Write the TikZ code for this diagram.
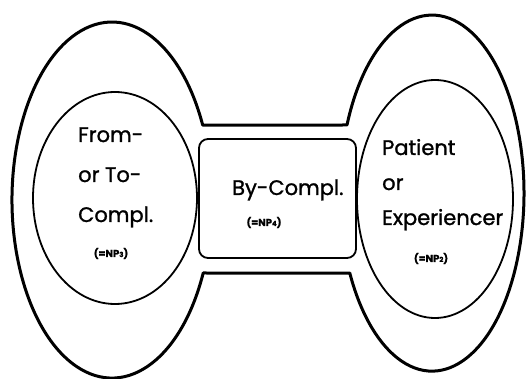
\documentclass[tikz,border=0pt]{standalone}
\usepackage{fontspec}
\setmainfont{Poppins}[FakeBold=1.2]
\usetikzlibrary{shapes.geometric}
\tikzset{
  outer/.style={line width=3pt, line join=round},
  innerell/.style={draw, ellipse, line width=1.8pt, inner sep=0pt},
  midbox/.style={draw, rectangle, rounded corners=9pt, line width=1.8pt, inner sep=0pt},
  big/.style={font=\fontsize{21}{24}\selectfont, inner sep=0pt},
  small/.style={font=\fontsize{10}{12}\selectfont\bfseries, inner sep=0pt},
}
\newcommand{\npnum}[1]{{\fontsize{7}{8}\selectfont #1}}
\begin{document}
\begin{tikzpicture}[x=1pt, y=-1pt]
\useasboundingbox (0,0) rectangle (528,379);
% outer dumbbell shape
\coordinate (lb) at (203.2,273);
\coordinate (rt) at (347,125);
\draw[outer] (lb) arc[start angle=-24.2, end angle=-335.1, x radius=100pt, y radius=178pt]
  -- (rt) arc[start angle=157.5, end angle=-153.3, x radius=92pt, y radius=178pt]
  -- cycle;
% inner shapes
\node[innerell, minimum width=164pt, minimum height=212pt] (Lin) at (115,198) {};
\node[innerell, minimum width=156pt, minimum height=238pt] (Rin) at (435,199) {};
\node[midbox, minimum width=157pt, minimum height=119pt] (Mid) at (277.5,198.5) {};
% left texts
\node[big, anchor=base west] (l1) at (78,142) {From-};
\node[big, anchor=base west] (l2) at (78,182) {or To-};
\node[big, anchor=base west] (l3) at (78,222) {Compl.};
\node[small, anchor=base] (l4) at (111,257) {(=NP\npnum{3})};
% middle texts
\node[big, anchor=base west] (m1) at (232,195) {By-Compl.};
\node[small, anchor=base] (m2) at (264,226) {(=NP\npnum{4})};
% right texts
\node[big, anchor=base west] (r1) at (382,155) {Patient};
\node[big, anchor=base west] (r2) at (382,190) {or};
\node[big, anchor=base west] (r3) at (382,225) {Experiencer};
\node[small, anchor=base] (r4) at (431,262) {(=NP\npnum{2})};
\end{tikzpicture}
\end{document}
